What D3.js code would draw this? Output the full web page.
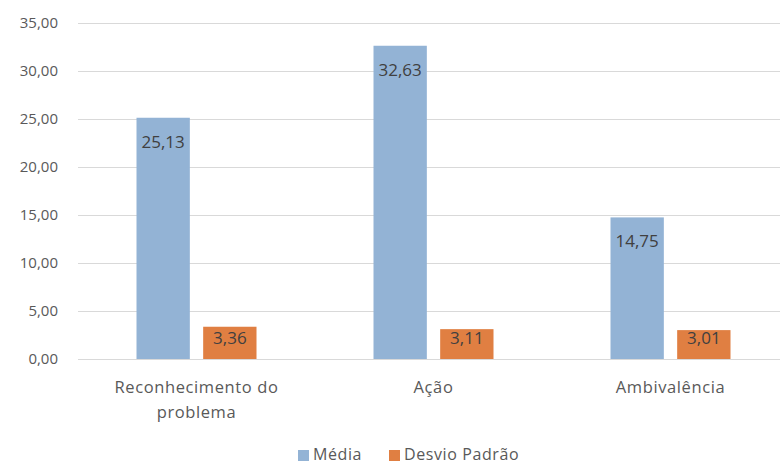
<!DOCTYPE html>
<html>
<head>
<meta charset="utf-8">
<script src="https://d3js.org/d3.v7.min.js"></script>
<style>
  body { margin: 0; background: #fff; }
  text { font-family: "Open Sans", "DejaVu Sans", sans-serif; }
</style>
</head>
<body>
<script>
var w = 780, h = 465

var categories = [['Reconhecimento do', 'problema'], ['Ação'], ['Ambivalência']]
var seriesNames = ['Média', 'Desvio Padrão']
var media = [25.13, 32.63, 14.75]
var desvio = [3.36, 3.11, 3.01]
var yTicks = [0, 5, 10, 15, 20, 25, 30, 35]
var colors = ['#93B3D5', '#E07F42']

var fmt = function(v){ return v.toFixed(2).replace('.', ',') }

var svg = d3.select('body').append('svg')
  .attr('width', w)
  .attr('height', h)

var x = d3.scaleBand()
  .domain(d3.range(categories.length))
  .range([78, 789])

var inner = d3.scaleBand()
  .domain(d3.range(seriesNames.length))
  .range([0, 120])
  .paddingInner(0.2)

var y = d3.scaleLinear()
  .domain([0, 35])
  .range([359, 23])

// gridlines
svg.append('g')
  .selectAll('line')
  .data(yTicks)
  .enter()
  .append('line')
  .attr('x1', 78)
  .attr('x2', 780)
  .attr('y1', function(d){ return y(d) + 0.5 })
  .attr('y2', function(d){ return y(d) + 0.5 })
  .attr('stroke', '#d9d9d9')
  .attr('stroke-width', 1)

// y axis labels
var yAxis = d3.axisLeft(y).tickValues(yTicks).tickFormat(fmt).tickSize(0).tickPadding(0)
var ya = svg.append('g').attr('transform', 'translate(58,0)').call(yAxis)
ya.select('.domain').remove()
ya.selectAll('text')
  .attr('fill', '#595959')
  .style('font-size', '15px')

var series = [media, desvio]

series.forEach(function(vals, s){
  var g = svg.append('g')
  g.selectAll('rect')
    .data(vals)
    .enter()
    .append('rect')
    .attr('x', function(d, i){ return x(i) + (x.bandwidth() - 120) / 2 + inner(s) })
    .attr('width', inner.bandwidth())
    .attr('y', function(d){ return y(d) })
    .attr('height', function(d){ return y(0) - y(d) })
    .attr('fill', colors[s])

  g.selectAll('text')
    .data(vals)
    .enter()
    .append('text')
    .text(fmt)
    .attr('x', function(d, i){ return x(i) + (x.bandwidth() - 120) / 2 + inner(s) + inner.bandwidth() / 2 })
    .attr('y', function(d){ return Math.min(y(d) + 24, y(0) - 21) })
    .attr('dy', '0.35em')
    .attr('text-anchor', 'middle')
    .attr('fill', '#404040')
    .style('font-size', '17px')
})

// category labels
svg.append('g')
  .selectAll('text')
  .data(categories)
  .enter()
  .append('text')
  .attr('x', function(d, i){ return x(i) + x.bandwidth() / 2 })
  .attr('y', 387)
  .attr('text-anchor', 'middle')
  .attr('fill', '#595959')
  .style('font-size', '16.5px')
  .style('letter-spacing', '0.6px')
  .each(function(d){
    var t = d3.select(this)
    d.forEach(function(line, k){
      t.append('tspan')
        .attr('x', t.attr('x'))
        .attr('dy', k === 0 ? '0.35em' : '25px')
        .text(line)
    })
  })

// legend
var legendX = [298, 389]
var lg = svg.append('g')
seriesNames.forEach(function(name, s){
  lg.append('rect')
    .attr('x', legendX[s])
    .attr('y', 450)
    .attr('width', 11)
    .attr('height', 11)
    .attr('fill', colors[s])
  lg.append('text')
    .attr('x', legendX[s] + 15)
    .attr('y', 454)
    .attr('dy', '0.35em')
    .attr('fill', '#595959')
    .style('font-size', '16px')
    .style('letter-spacing', '0.6px')
    .text(name)
})
</script>
</body>
</html>
